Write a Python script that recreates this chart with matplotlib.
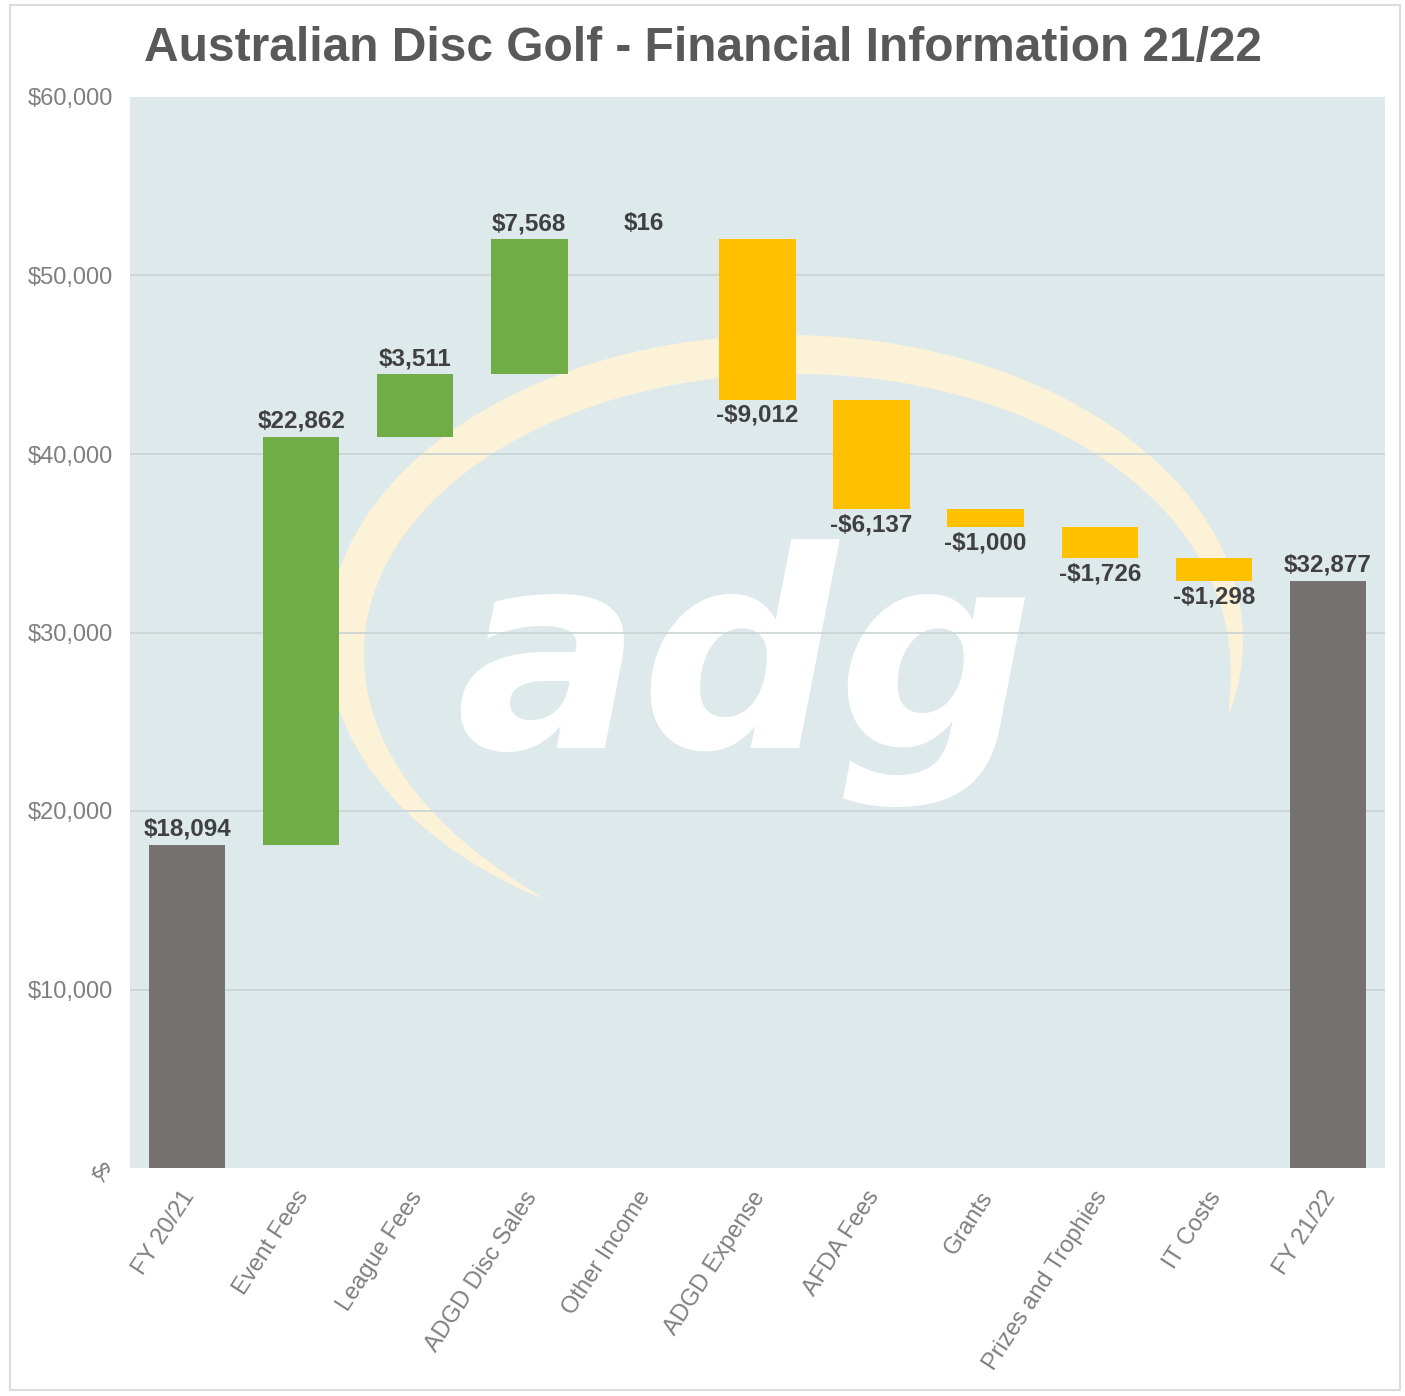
import numpy as np
import matplotlib
matplotlib.use('Agg')
import matplotlib.pyplot as plt
from matplotlib.patches import Polygon, Rectangle
from matplotlib.transforms import ScaledTranslation, blended_transform_factory

plt.rcParams['font.family'] = ['Liberation Sans', 'DejaVu Sans']

#### data
categorias = ['FY 20/21', 'Event Fees', 'League Fees', 'ADGD Disc Sales', 'Other Income',
              'ADGD Expense', 'AFDA Fees', 'Grants', 'Prizes and Trophies', 'IT Costs', 'FY 21/22']
valores = [18094, 22862, 3511, 7568, 16, -9012, -6137, -1000, -1726, -1298, 32877]
totais = [True, False, False, False, False, False, False, False, False, False, True]
yticks = [0, 10000, 20000, 30000, 40000, 50000, 60000]
ytick_labels = ['$-', '$10,000', '$20,000', '$30,000', '$40,000', '$50,000', '$60,000']

cinza = '#767171'
verde = '#70ad47'
amarelo = '#ffc000'

fig = plt.figure(figsize=(14.05, 13.96), dpi=100)
ax = fig.add_axes([130/1405, 1 - 1168/1396, 1255/1405, 1071/1396])
ax.set_facecolor('#dde9ea')

#### watermark (arc + adg)
def px2ax(px, py):
    return ((px - 130) / 1255.0, (1168 - py) / 1071.0)

cx, cy, rx, ry = 785, 640, 458, 305
t = np.radians(np.linspace(-14, 238, 200))
w = 50 * np.sin(np.pi * (t - t[0]) / (t[-1] - t[0])) ** 0.7
outer = [px2ax(cx + rx*np.cos(a), cy - ry*np.sin(a)) for a in t]
inner = [px2ax(cx + (rx - wi)*np.cos(a), cy - (ry - wi*0.8)*np.sin(a)) for a, wi in zip(t, w)]
arco = Polygon(outer + inner[::-1], closed=True, transform=ax.transAxes,
               facecolor='#fcf2d8', edgecolor='none', zorder=0)
ax.add_patch(arco)
bx, by = px2ax(745, 748)
ax.text(bx, by, 'adg', transform=ax.transAxes, fontsize=198, color='white',
        fontweight='bold', style='italic', family='DejaVu Sans',
        ha='center', va='baseline', zorder=0.5)

#### grid
for yv in yticks[1:-1]:
    ax.axhline(yv, color='#c9d3d4', lw=1.2, zorder=1)

#### waterfall
x = np.arange(len(categorias))
acum = 0
for i, v in enumerate(valores):
    if totais[i]:
        base, altura, cor = 0, v, cinza
        acum = v
    elif v >= 0:
        base, altura, cor = acum, v, verde
        acum += v
    else:
        base, altura, cor = acum + v, -v, amarelo
        acum += v
    ax.bar(x[i], altura, bottom=base, width=0.67, color=cor, zorder=2)
    if v >= 0:
        txt = '${:,}'.format(v)
        ax.annotate(txt, (x[i], base + altura), xytext=(0, 3), textcoords='offset points',
                    ha='center', va='bottom', fontsize=17.5, fontweight='bold', color='#404040', zorder=3)
    else:
        txt = '-${:,}'.format(-v)
        ax.annotate(txt, (x[i], base), xytext=(0, -3), textcoords='offset points',
                    ha='center', va='top', fontsize=17.5, fontweight='bold', color='#404040', zorder=3)

ax.set_xlim(-0.5, len(categorias) - 0.5)
ax.set_ylim(0, 60000)
ax.set_yticks(yticks)
ax.set_yticklabels(ytick_labels, fontsize=17, color='#7f7f7f')
ax.get_yticklabels()[0].set_rotation(-65)
ax.tick_params(axis='y', length=0, pad=12)
ax.set_xticks([])
for s in ax.spines.values():
    s.set_visible(False)

#### category labels
trans = blended_transform_factory(ax.transData, ax.transAxes)
for i, c in enumerate(categorias):
    off = ScaledTranslation(2/72, -18/72, fig.dpi_scale_trans)
    ax.text(x[i], 0, c, transform=trans + off, rotation=57, rotation_mode='anchor',
            ha='right', va='center', fontsize=17, color='#7f7f7f')

fig.text(0.5, 1 - 49/1396, 'Australian Disc Golf - Financial Information 21/22',
         ha='center', va='center', fontsize=34.5, fontweight='bold', color='#595959')

fig.patches.append(Rectangle((10/1405, 1 - 1390/1396), 1390/1405, 1385/1396,
                             transform=fig.transFigure, fill=False, edgecolor='#dcdcdc', lw=1.5))

plt.savefig('out.png', dpi=100)
